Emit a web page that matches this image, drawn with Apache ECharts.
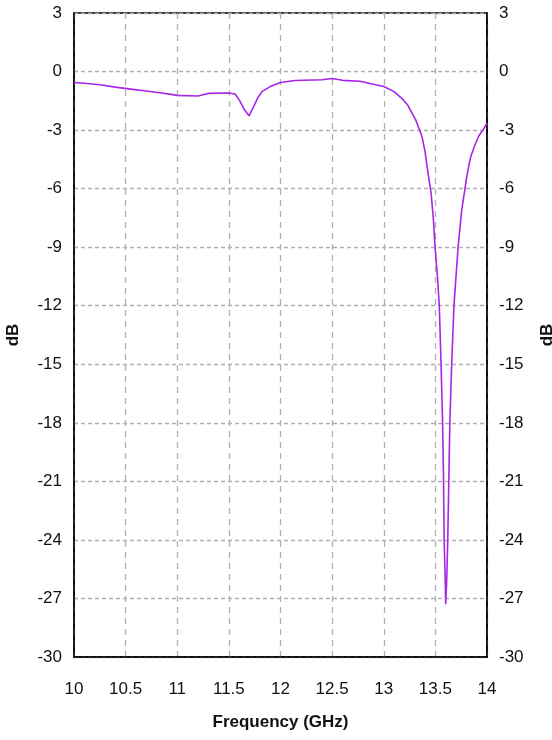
<!DOCTYPE html>
<html>
<head>
<meta charset="utf-8">
<script src="https://cdn.jsdelivr.net/npm/echarts@6/dist/echarts.min.js"></script>
<style>
html,body{margin:0;padding:0;background:#fff;}
#chart{width:552px;height:740px;}
</style>
</head>
<body>
<div id="chart"></div>
<script>
var freqGHz = [10.0,10.1,10.25,10.4,10.55,10.7,10.85,11.0,11.2,11.3,11.5,11.56,11.6,11.65,11.695,11.74,11.78,11.82,11.9,12.0,12.14,12.4,12.5,12.6,12.77,12.9,13.0,13.1,13.18,13.23,13.28,13.31,13.34,13.37,13.4,13.42,13.44,13.458,13.48,13.497,13.52,13.538,13.555,13.57,13.578,13.585,13.595,13.6,13.61,13.62,13.63,13.64,13.658,13.68,13.72,13.755,13.787,13.8,13.84,13.88,13.92,13.96,14.0];
var dBValues = [-0.56,-0.6,-0.68,-0.8,-0.9,-1.0,-1.1,-1.22,-1.25,-1.12,-1.1,-1.15,-1.45,-1.95,-2.27,-1.8,-1.35,-1.03,-0.77,-0.56,-0.46,-0.42,-0.36,-0.45,-0.5,-0.65,-0.77,-1.03,-1.4,-1.7,-2.2,-2.48,-2.9,-3.33,-4.1,-4.87,-5.6,-6.2,-7.5,-9,-10.5,-12,-15,-18,-20.5,-24,-26,-27.3,-26,-24,-21,-18,-15,-12,-9,-7.1,-6,-5.5,-4.4,-3.8,-3.3,-3.0,-2.65];
var xTicks = [10,10.5,11,11.5,12,12.5,13,13.5,14];
var yTicks = [3,0,-3,-6,-9,-12,-15,-18,-21,-24,-27,-30];

var FONT = '"Liberation Sans Narrow","Liberation Sans",Arial,sans-serif';
var seriesData = freqGHz.map(function(f,i){return [f, dBValues[i]];});
var labelStyle = {fontFamily:FONT, fontSize:17, color:'#111'};

function yAxis(pos){
  return {
    type:'value', position:pos, min:-30, max:3, interval:3,
    name:'dB', nameLocation:'middle', nameGap:52, nameRotate:90,
    nameTextStyle:{fontFamily:FONT, fontSize:17, fontWeight:'bold', color:'#111'},
    axisLine:{show:true, onZero:false, lineStyle:{color:'#000', width:1.5}},
    axisTick:{show:false},
    splitLine: pos==='left' ? {show:true, lineStyle:{color:'#b0b0b0', type:[4,3], width:1.3}} : {show:false},
    axisLabel:Object.assign({margin:12, formatter:function(v){return yTicks.indexOf(v)>=0? String(v):'';}}, labelStyle)
  };
}

var chart = echarts.init(document.getElementById('chart'), null, {renderer:'canvas'});
chart.setOption({
  animation:false,
  backgroundColor:'#fff',
  grid:{left:74, right:65, top:13, bottom:83, show:true, borderColor:'#000', borderWidth:1.5, containLabel:false, outerBoundsMode:'none'},
  xAxis:{
    type:'value', min:10, max:14, interval:0.5,
    name:'Frequency (GHz)', nameLocation:'middle', nameGap:57,
    nameTextStyle:{fontFamily:FONT, fontSize:17, fontWeight:'bold', color:'#111'},
    axisLine:{show:true, onZero:false, lineStyle:{color:'#000', width:1.5}},
    axisTick:{show:false},
    splitLine:{show:true, lineStyle:{color:'#b0b0b0', type:[6,5], width:1.3}},
    axisLabel:Object.assign({margin:24, formatter:function(v){return xTicks.indexOf(v)>=0? String(v):'';}}, labelStyle)
  },
  yAxis:[yAxis('left'), yAxis('right')],
  series:[{
    type:'line', data:seriesData, yAxisIndex:0, showSymbol:false,
    lineStyle:{color:'#a626e6', width:1.6}, itemStyle:{color:'#a626e6'}
  }]
});
</script>
</body>
</html>
